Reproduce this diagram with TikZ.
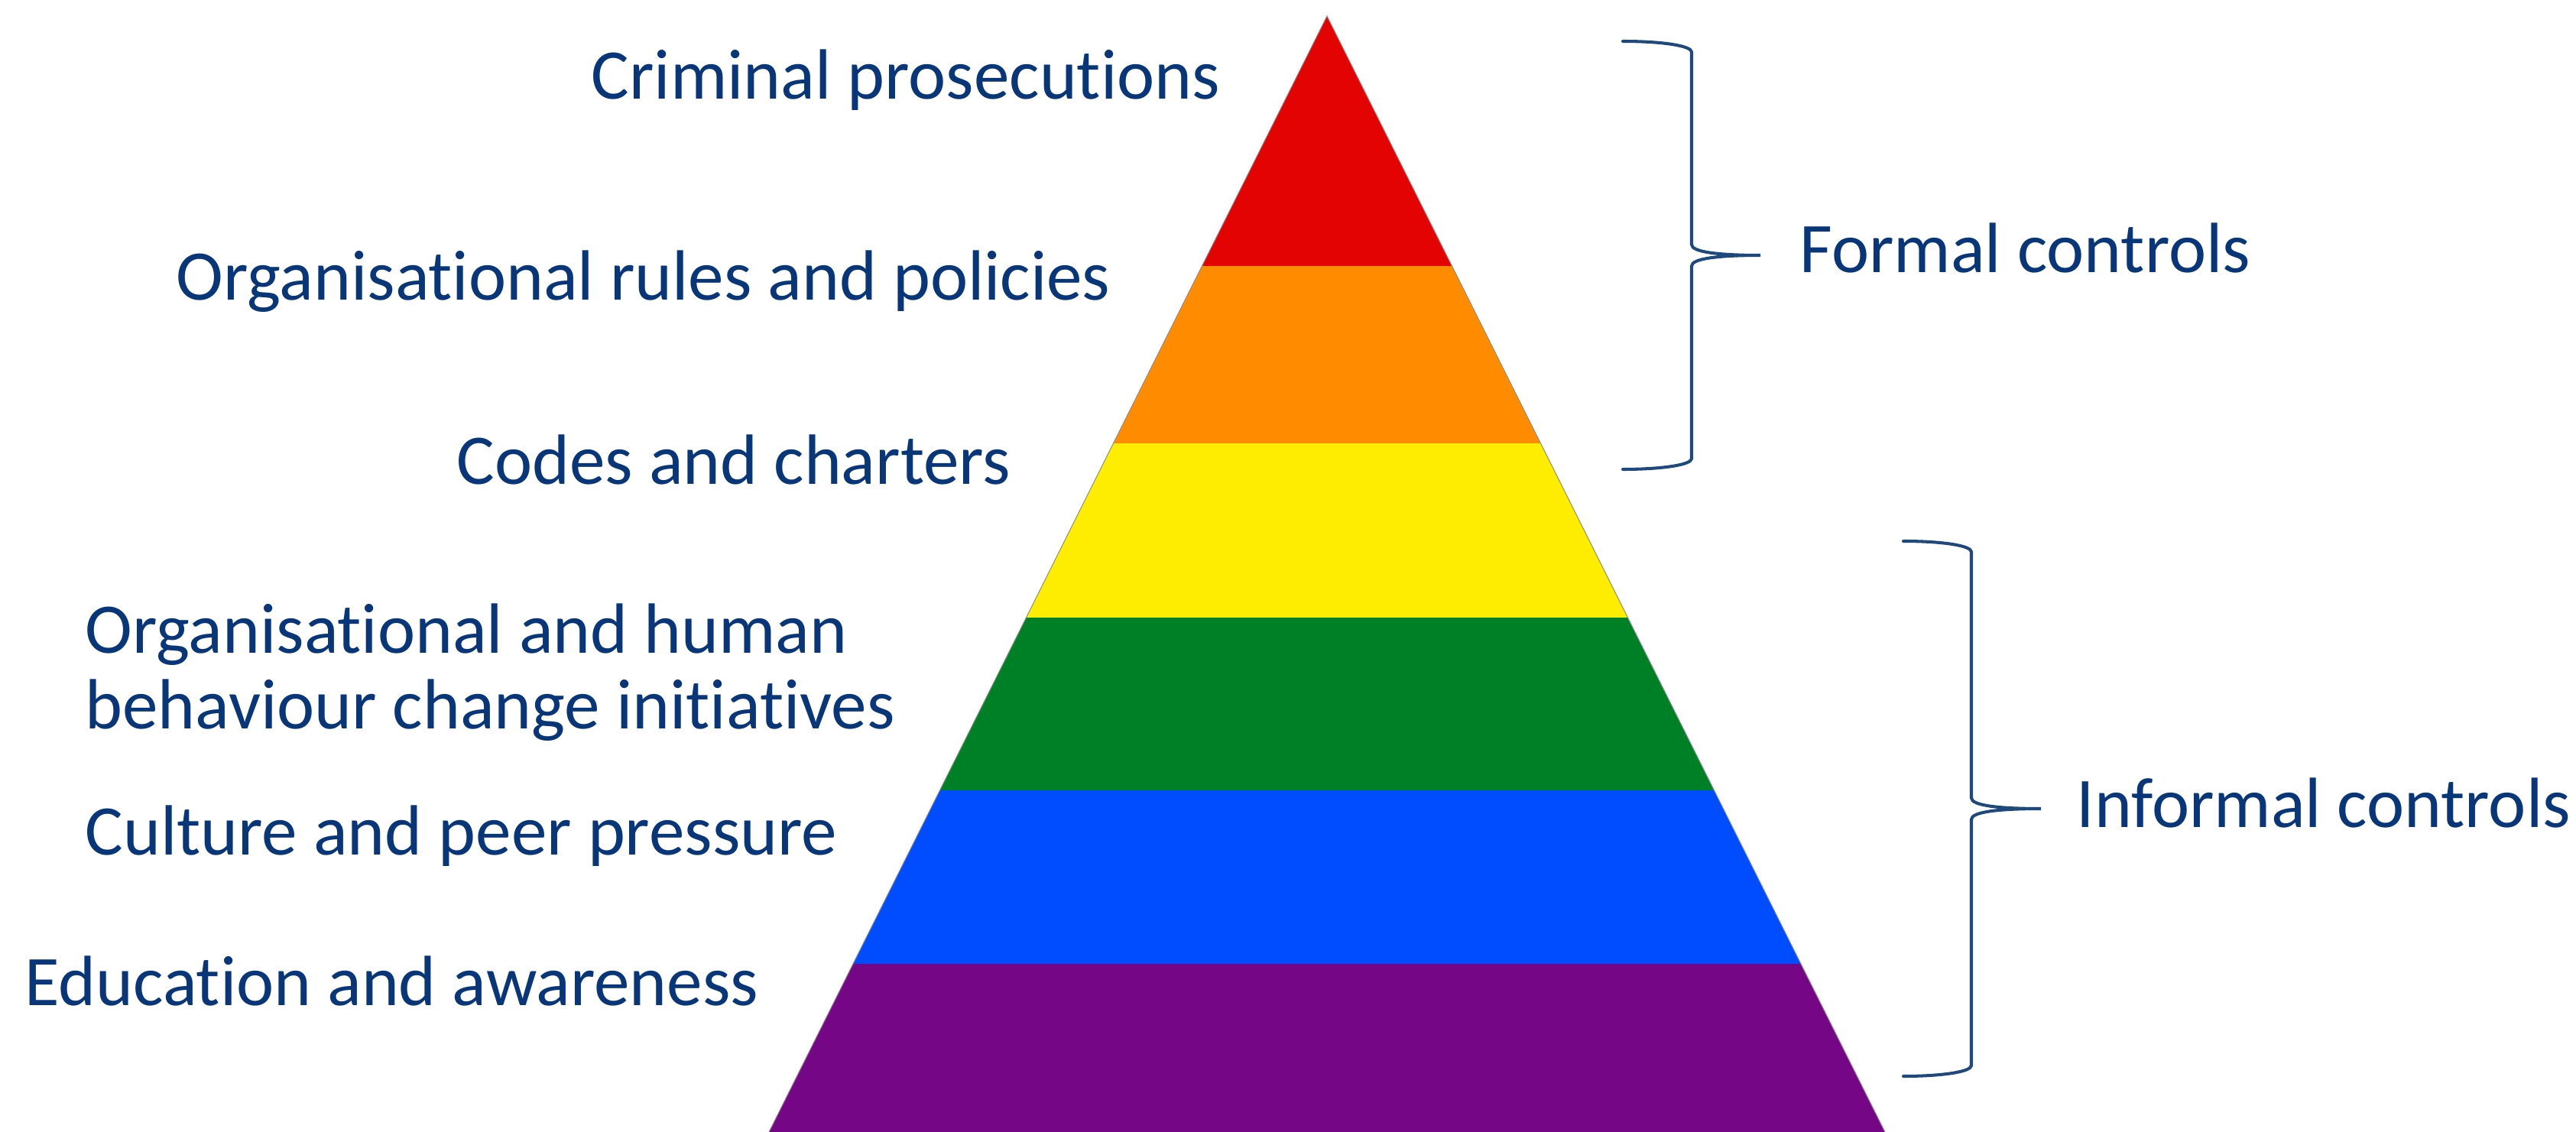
\documentclass[tikz,border=0pt]{standalone}
\usepackage{fontspec}
\setmainfont{Carlito}[Ligatures=NoCommon]
\usepackage{xcolor}
\usepackage{tikz}

\definecolor{textblue}{RGB}{8,54,120}
\definecolor{braceblue}{RGB}{31,73,125}
\definecolor{layerred}{HTML}{E40303}
\definecolor{layerorange}{HTML}{FF8C00}
\definecolor{layeryellow}{HTML}{FFED00}
\definecolor{layergreen}{HTML}{008026}
\definecolor{layerblue}{HTML}{004DFF}
\definecolor{layerpurple}{HTML}{750787}

\tikzset{
    lbl/.style={anchor=base west, inner sep=0pt, text=textblue,
        font=\fontsize{26.5}{27.9}\selectfont, align=left},
    bracket/.style={draw=braceblue, line width=1.15pt, line cap=round}
}

\begin{document}
\begin{tikzpicture}
            \useasboundingbox (0,0) rectangle (33.70,-14.81);

            % pyramid
            \coordinate (top) at (17.36,-0.21);
            \coordinate (bl) at (10.06,-14.81);
            \coordinate (br) at (24.66,-14.81);
            \begin{scope}
                \clip (top) -- (bl) -- (br) -- cycle;
                \fill[layerred] (9,0) rectangle (26,-3.48);
                \fill[layerorange] (9,-3.48) rectangle (26,-5.80);
                \fill[layeryellow] (9,-5.80) rectangle (26,-8.08);
                \fill[layergreen] (9,-8.08) rectangle (26,-10.34);
                \fill[layerblue] (9,-10.34) rectangle (26,-12.61);
                \fill[layerpurple] (9,-12.61) rectangle (26,-14.81);
            \end{scope}
            \draw[black!45, line width=0.3pt] (bl) -- (top) -- (br);

            % layer labels
            \node[lbl] at (7.73,-1.30) (crim) {Criminal prosecutions};
            \node[lbl] at (2.30,-3.93) (rules) {Organisational rules and policies};
            \node[lbl] at (5.97,-6.33) (codes) {Codes and charters};
            \node[lbl] at (1.11,-9.53) (human) {Organisational and human\\behaviour change initiatives};
            \node[lbl] at (1.11,-11.18) (peer) {Culture and peer pressure};
            \node[lbl] at (0.32,-13.15) (edu) {Education and awareness};

            % braces
            \coordinate (ftop) at (21.23,-0.54);
            \coordinate (ftip) at (23.03,-3.34);
            \coordinate (fbot) at (21.23,-6.14);
            \draw[bracket] (ftop) .. controls (21.75,-0.54) and (22.13,-0.60) .. (22.13,-0.68)
                -- (22.13,-3.20) .. controls (22.13,-3.30) and (22.50,-3.34) .. (ftip)
                .. controls (22.50,-3.34) and (22.13,-3.38) .. (22.13,-3.48)
                -- (22.13,-6.00) .. controls (22.13,-6.08) and (21.75,-6.14) .. (fbot);
            \node[lbl] at (23.54,-3.56) (formal) {Formal controls};

            \coordinate (itop) at (24.90,-7.08);
            \coordinate (itip) at (26.70,-10.58);
            \coordinate (ibot) at (24.90,-14.08);
            \draw[bracket] (itop) .. controls (25.42,-7.08) and (25.79,-7.14) .. (25.79,-7.22)
                -- (25.79,-10.44) .. controls (25.79,-10.54) and (26.16,-10.58) .. (itip)
                .. controls (26.16,-10.58) and (25.79,-10.62) .. (25.79,-10.72)
                -- (25.79,-13.94) .. controls (25.79,-14.02) and (25.42,-14.08) .. (ibot);
            \node[lbl] at (27.16,-10.82) (informal) {Informal controls};
        \end{tikzpicture}
\end{document}
